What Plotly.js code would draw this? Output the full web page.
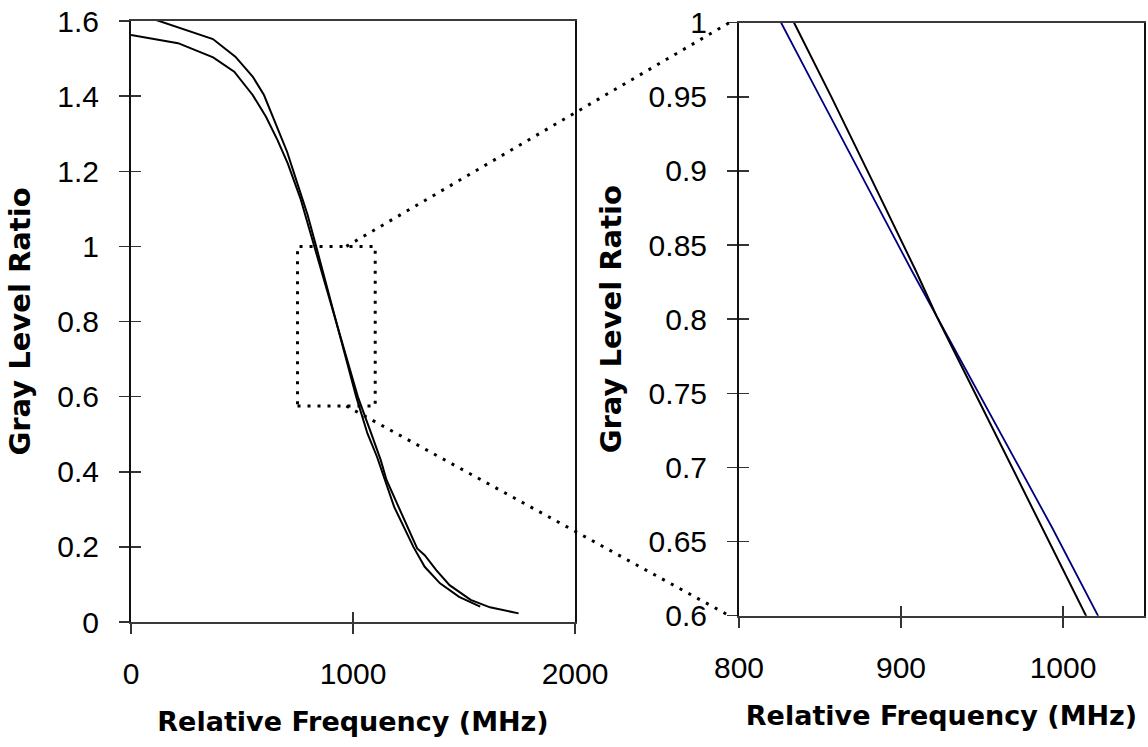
<!DOCTYPE html>
<html><head><meta charset="utf-8">
<script src="https://cdn.plot.ly/plotly-3.0.1.min.js"></script>
<style>html,body{margin:0;padding:0;background:#fff;}#chart{width:1148px;height:747px;}</style>
</head><body><div id="chart"></div>
<script>
// ---- data ----
// Curve A (black in both panels)
const curveA_x = [0, 369, 470, 548, 599, 651, 703, 754, 795, 834, 857, 882, 909, 922, 940.7, 959, 987, 1014.2, 1065, 1108, 1134, 1185, 1272, 1323, 1392, 1478, 1573];
const curveA_y = [1.625, 1.552, 1.505, 1.452, 1.403, 1.328, 1.252, 1.159, 1.085, 1.0, 0.95, 0.894, 0.833, 0.802, 0.761, 0.721, 0.66, 0.6, 0.502, 0.44, 0.396, 0.307, 0.2, 0.147, 0.103, 0.067, 0.041];
// Curve B (black in full panel, blue in zoom panel)
const curveB_x = [0, 212, 370, 465, 548, 608, 660, 706, 763, 826, 850, 877, 906.5, 922, 942.5, 963, 993, 1021.6, 1082, 1125, 1151, 1211, 1289, 1323, 1375, 1435, 1530, 1617, 1746];
const curveB_y = [1.563, 1.541, 1.503, 1.465, 1.403, 1.345, 1.283, 1.221, 1.128, 1.0, 0.95, 0.894, 0.833, 0.802, 0.761, 0.721, 0.66, 0.6, 0.502, 0.431, 0.378, 0.298, 0.196, 0.178, 0.138, 0.098, 0.059, 0.039, 0.023];

const fullXTicks = [0, 1000, 2000];
const fullXTickText = ['0', '1000', '2000'];
const fullYTicks = [0, 0.2, 0.4, 0.6, 0.8, 1, 1.2, 1.4, 1.6];
const fullYTickText = ['0', '0.2', '0.4', '0.6', '0.8', '1', '1.2', '1.4', '1.6'];
const zoomXTicks = [800, 900, 1000];
const zoomXTickText = ['800', '900', '1000'];
const zoomYTicks = [0.6, 0.65, 0.7, 0.75, 0.8, 0.85, 0.9, 0.95, 1];
const zoomYTickText = ['0.6', '0.65', '0.7', '0.75', '0.8', '0.85', '0.9', '0.95', '1'];

const fullXRange = [0, 2000];
const fullYRange = [0, 1.6];
const zoomXRange = [800, 1050];
const zoomYRange = [0.6, 1];

// dotted zoom box on the full panel, and where the connector lines start / end
const zoomBoxX = [750, 1100];
const zoomBoxY = [0.575, 1.0];
const linkStartX = 970;   // full-panel x where connectors leave the box
const linkEndX = 794;     // zoom-panel x where connectors arrive

const xTitle = 'Relative Frequency (MHz)';
const yTitle = 'Gray Level Ratio';

// ---- layout geometry ----
const W = 1148, H = 747;
const M = {l: 10, r: 4, t: 20, b: 124};
const pw = W - M.l - M.r, ph = H - M.t - M.b;
const fx = p => (p - M.l) / pw;
const fy = p => (H - M.b - p) / ph;
const fullDomX = [fx(131), fx(575)], fullDomY = [fy(622), fy(21)];
const zoomDomX = [fx(739), fx(1144)], zoomDomY = [fy(615.7), fy(22.7)];

const toPaper = (v, r, d) => d[0] + (v - r[0]) / (r[1] - r[0]) * (d[1] - d[0]);

const tickFont = {family: 'Liberation Sans, Arial, sans-serif', size: 30, color: '#000'};
const xTitleFont = {family: 'DejaVu Sans, sans-serif', size: 27, color: '#000', weight: 'bold'};
const yTitleFont = {family: 'DejaVu Sans, sans-serif', size: 29, color: '#000', weight: 'bold'};

function mainAxis(dom, rng, tv, tt, anchor, isX) {
  return {
    domain: dom, range: rng, anchor: anchor, tickmode: 'array', tickvals: tv, ticktext: tt,
    ticks: 'outside', ticklen: 10, tickwidth: 1.5, tickcolor: '#333',
    showline: true, linecolor: isX ? '#3a3a3a' : '#111', linewidth: 2, mirror: true,
    showgrid: false, zeroline: false, tickfont: tickFont,
    ticklabelstandoff: isX ? 14 : 14,
    title: {text: isX ? xTitle : yTitle, font: isX ? xTitleFont : yTitleFont, standoff: isX ? 23 : 18},
    fixedrange: true
  };
}
function innerTicks(over, rng, tv, anchor) {
  return {
    overlaying: over, anchor: anchor, range: rng, tickmode: 'array', tickvals: tv,
    ticks: 'inside', ticklen: 10, tickwidth: 1.5, tickcolor: '#333',
    showticklabels: false, showline: false, showgrid: false, zeroline: false, fixedrange: true
  };
}

const dotLine = {color: '#000', width: 3, dash: '3px,7px'};

const traces = [
  {x: curveA_x, y: curveA_y, xaxis: 'x', yaxis: 'y', mode: 'lines', line: {color: '#000', width: 2}, showlegend: false, hoverinfo: 'skip'},
  {x: curveB_x, y: curveB_y, xaxis: 'x', yaxis: 'y', mode: 'lines', line: {color: '#000', width: 2}, showlegend: false, hoverinfo: 'skip'},
  {x: curveB_x, y: curveB_y, xaxis: 'x2', yaxis: 'y2', mode: 'lines', line: {color: '#000080', width: 1.8}, showlegend: false, hoverinfo: 'skip'},
  {x: curveA_x, y: curveA_y, xaxis: 'x2', yaxis: 'y2', mode: 'lines', line: {color: '#000', width: 2}, showlegend: false, hoverinfo: 'skip'},
  {x: [], y: [], xaxis: 'x3', yaxis: 'y3', mode: 'lines', showlegend: false, hoverinfo: 'skip'},
  {x: [], y: [], xaxis: 'x4', yaxis: 'y4', mode: 'lines', showlegend: false, hoverinfo: 'skip'}
];

const layout = {
  width: W, height: H, margin: M, paper_bgcolor: '#fff', plot_bgcolor: '#fff', showlegend: false,
  xaxis: mainAxis(fullDomX, fullXRange, fullXTicks, fullXTickText, 'y', true),
  yaxis: mainAxis(fullDomY, fullYRange, fullYTicks, fullYTickText, 'x', false),
  xaxis2: mainAxis(zoomDomX, zoomXRange, zoomXTicks, zoomXTickText, 'y2', true),
  yaxis2: mainAxis(zoomDomY, zoomYRange, zoomYTicks, zoomYTickText, 'x2', false),
  xaxis3: innerTicks('x', fullXRange, fullXTicks, 'y3'),
  yaxis3: innerTicks('y', fullYRange, fullYTicks, 'x3'),
  xaxis4: innerTicks('x2', zoomXRange, zoomXTicks, 'y4'),
  yaxis4: innerTicks('y2', zoomYRange, zoomYTicks, 'x4'),
  shapes: [
    {type: 'rect', xref: 'x', yref: 'y', x0: zoomBoxX[0], x1: zoomBoxX[1], y0: zoomBoxY[0], y1: zoomBoxY[1], line: dotLine, fillcolor: 'rgba(0,0,0,0)'},
    {type: 'line', xref: 'paper', yref: 'paper',
     x0: toPaper(linkStartX, fullXRange, fullDomX), y0: toPaper(zoomBoxY[1], fullYRange, fullDomY),
     x1: toPaper(linkEndX, zoomXRange, zoomDomX), y1: toPaper(zoomYRange[1], zoomYRange, zoomDomY), line: dotLine},
    {type: 'line', xref: 'paper', yref: 'paper',
     x0: toPaper(linkStartX, fullXRange, fullDomX), y0: toPaper(zoomBoxY[0], fullYRange, fullDomY),
     x1: toPaper(linkEndX, zoomXRange, zoomDomX), y1: toPaper(zoomYRange[0], zoomYRange, zoomDomY), line: dotLine}
  ]
};

Plotly.newPlot('chart', traces, layout, {staticPlot: true, displayModeBar: false});
</script>
</body></html>
